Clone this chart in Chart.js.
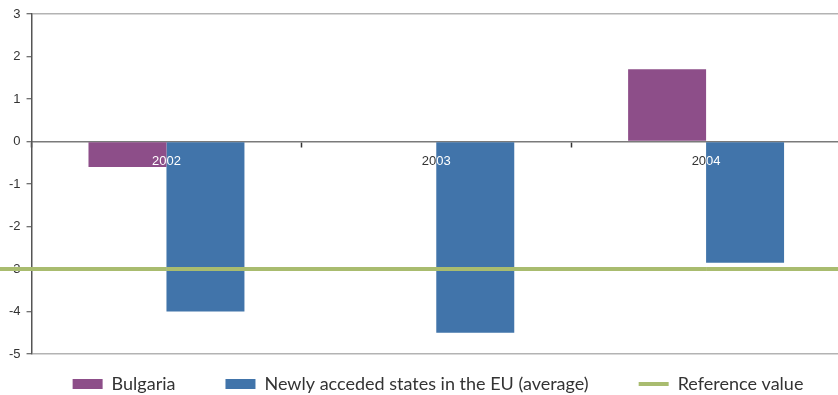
<!DOCTYPE html>
<html>
<head>
<meta charset="utf-8">
<script src="https://cdn.jsdelivr.net/npm/chart.js@4/dist/chart.umd.min.js"></script>
<style>
  html, body { margin: 0; padding: 0; background: #fff; overflow: hidden; }
  #wrap { width: 842px; height: 395px; position: relative; }
</style>
</head>
<body>
<div id="wrap"><canvas id="c"></canvas></div>
<script>
// Budget balance, % of GDP
const years = ['2002', '2003', '2004'];
const bulgaria = [-0.6, 0, 1.7];
const newMembers = [-4.0, -4.5, -2.85];
const referenceValue = [-3, -3, -3];
const yTicks = [3, 2, 1, 0, -1, -2, -3, -4, -5];

const PURPLE = '#8D4E89';
const BLUE = '#4174AA';
const GREEN = '#A9BC6F';
const TEXT = '#333333';

// Year labels sit just under the zero line: dark on white, white over bars
const yearLabels = {
  id: 'yearLabels',
  beforeDatasetsDraw(chart) {
    this._draw(chart, TEXT, null);
  },
  afterDatasetsDraw(chart) {
    const bars = [];
    [0, 1].forEach(d => chart.getDatasetMeta(d).data.forEach(el => bars.push(el)));
    this._draw(chart, '#ffffff', bars);
  },
  _draw(chart, color, bars) {
    const { ctx, scales } = chart;
    const y = scales.y.getPixelForValue(0) + 20;
    ctx.save();
    if (bars) {
      ctx.beginPath();
      bars.forEach(el => {
        const p = el.getProps(['x', 'y', 'base', 'width'], true);
        const top = Math.min(p.y, p.base), h = Math.abs(p.base - p.y);
        ctx.rect(p.x - p.width / 2, top, p.width, h);
      });
      ctx.clip();
    }
    ctx.fillStyle = color;
    ctx.font = '13px "Liberation Sans", Arial, sans-serif';
    ctx.textAlign = 'center';
    ctx.textBaseline = 'middle';
    years.forEach((label, i) => ctx.fillText(label, scales.x.getPixelForValue(i), y));
    ctx.restore();
  }
};

// The reference line runs through the whole width of the figure
const refEnds = {
  id: 'refEnds',
  afterDatasetsDraw(chart) {
    const { ctx, chartArea } = chart;
    const pts = chart.getDatasetMeta(2).data;
    if (!pts.length) return;
    const first = pts[0], last = pts[pts.length - 1];
    ctx.save();
    ctx.strokeStyle = GREEN;
    ctx.lineWidth = 4;
    ctx.beginPath();
    ctx.moveTo(0, first.y);
    ctx.lineTo(first.x, first.y);
    ctx.moveTo(last.x, last.y);
    ctx.lineTo(chartArea.right, last.y);
    ctx.stroke();
    ctx.restore();
  }
};

// Wide gaps between legend entries, with the row kept close under the plot
const legendPlace = {
  id: 'legendPlace',
  afterLayout(chart) {
    const lg = chart.legend;
    if (!lg) return;
    lg.top -= 29; lg.bottom -= 29;
    lg.left += 16; lg.right += 16;
  }
};

new Chart(document.getElementById('c'), {
  type: 'bar',
  data: {
    labels: years,
    datasets: [
      {
        label: 'Bulgaria',
        data: bulgaria,
        backgroundColor: PURPLE,
        borderWidth: 0,
        pointStyle: 'rect',
        categoryPercentage: 0.578,
        barPercentage: 1
      },
      {
        label: 'Newly acceded states in the EU (average)',
        data: newMembers,
        backgroundColor: BLUE,
        borderWidth: 0,
        pointStyle: 'rect',
        categoryPercentage: 0.578,
        barPercentage: 1
      },
      {
        type: 'line',
        label: 'Reference value',
        data: referenceValue,
        borderColor: GREEN,
        backgroundColor: GREEN,
        borderWidth: 4,
        pointRadius: 0,
        pointStyle: 'line',
        fill: false,
        order: -1
      }
    ]
  },
  options: {
    responsive: true,
    maintainAspectRatio: false,
    animation: false,
    events: [],
    layout: { padding: { top: 14, left: 3, right: 1, bottom: -37 } },
    scales: {
      x: {
        position: { y: 0 },
        offset: true,
        grid: {
          offset: true,
          drawOnChartArea: false,
          drawTicks: true,
          tickLength: 5,
          tickColor: '#333',
          tickWidth: 1.5
        },
        border: { display: true, color: '#7a7a7a', width: 1.5 },
        ticks: { display: false }
      },
      y: {
        min: Math.min(...yTicks),
        max: Math.max(...yTicks),
        afterBuildTicks(axis) { axis.ticks = yTicks.map(v => ({ value: v })); },
        grid: {
          color: c => (c.tick && (c.tick.value === 3 || c.tick.value === -5)) ? '#b3b3b3' : 'rgba(0,0,0,0)',
          lineWidth: 1.5,
          tickColor: '#444',
          tickLength: 5,
          tickWidth: 1
        },
        border: { display: true, color: '#555', width: 1.5 },
        ticks: {
          color: TEXT,
          padding: 6,
          font: { family: '"Liberation Sans", Arial, sans-serif', size: 13 }
        }
      }
    },
    plugins: {
      tooltip: { enabled: false },
      legend: {
        position: 'bottom',
        labels: {
          usePointStyle: true,
          pointStyleWidth: 30,
          boxHeight: 10,
          padding: 50,
          color: TEXT,
          font: { family: 'Lato, "Open Sans", sans-serif', size: 18 },
          sort: (a, b) => a.datasetIndex - b.datasetIndex
        }
      }
    }
  },
  plugins: [yearLabels, refEnds, legendPlace]
});
</script>
</body>
</html>
